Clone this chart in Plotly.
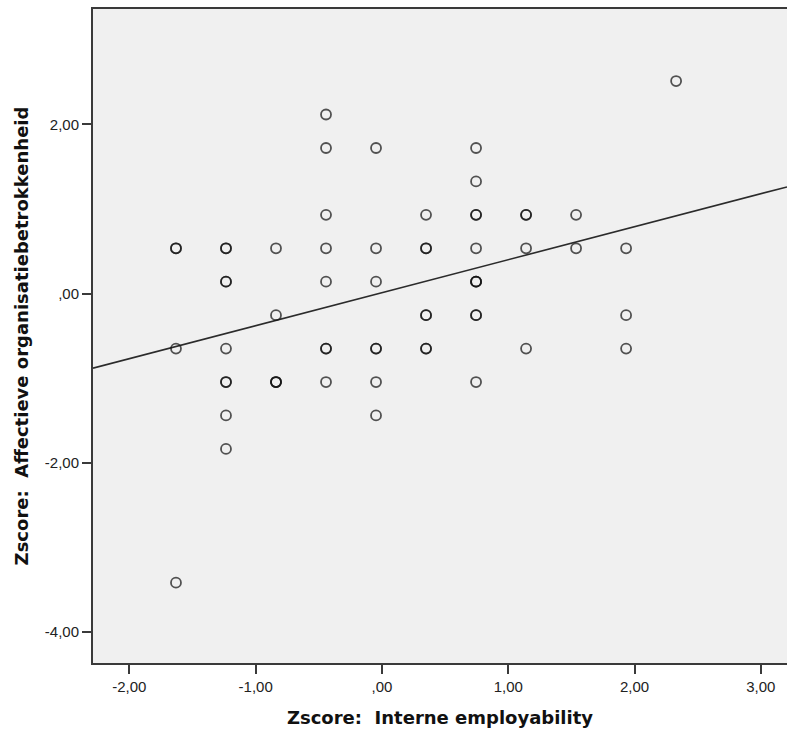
import plotly.graph_objects as go

# (duplicates listed as repeated points)
x_vals = [-1.631, -1.631, -1.631, -1.631,
          -1.235, -1.235, -1.235, -1.235, -1.235, -1.235, -1.235, -1.235, -1.235,
          -0.839, -0.839, -0.839, -0.839, -0.839,
          -0.443, -0.443, -0.443, -0.443, -0.443, -0.443, -0.443, -0.443,
          -0.047, -0.047, -0.047, -0.047, -0.047, -0.047, -0.047,
          0.349, 0.349, 0.349, 0.349, 0.349, 0.349, 0.349,
          0.745, 0.745, 0.745, 0.745, 0.745, 0.745, 0.745, 0.745, 0.745, 0.745, 0.745,
          1.141, 1.141, 1.141, 1.141,
          1.537, 1.537,
          1.933, 1.933, 1.933,
          2.329]
y_vals = [0.535, 0.535, -0.651, -3.42,
          0.535, 0.535, 0.140, 0.140, -0.651, -1.047, -1.047, -1.442, -1.838,
          0.535, -0.256, -1.047, -1.047, -1.047,
          2.117, 1.721, 0.931, 0.535, 0.140, -0.651, -0.651, -1.047,
          1.721, 0.535, 0.140, -0.651, -0.651, -1.047, -1.442,
          0.931, 0.535, 0.535, -0.256, -0.256, -0.651, -0.651,
          1.721, 1.326, 0.931, 0.931, 0.535, 0.140, 0.140, 0.140, -0.256, -0.256, -1.047,
          0.931, 0.931, 0.535, -0.651,
          0.931, 0.535,
          0.535, -0.256, -0.651,
          2.513]

# Fit line (total-sample linear fit)
fit_slope = 0.39
fit_intercept = 0.01

x_range = [-2.288, 3.207]
y_range = [-4.37, 3.365]

x_ticks = [-2, -1, 0, 1, 2, 3]
x_tick_labels = ["-2,00", "-1,00", ",00", "1,00", "2,00", "3,00"]
y_ticks = [-4, -2, 0, 2]
y_tick_labels = ["-4,00", "-2,00", ",00", "2,00"]

fit_x = x_range
fit_y = [fit_intercept + fit_slope * v for v in fit_x]

fig = go.Figure()
fig.add_trace(go.Scatter(
    x=fit_x, y=fit_y, mode="lines",
    line=dict(color="#2b2b2b", width=1.6),
    hoverinfo="skip", showlegend=False,
))
fig.add_trace(go.Scatter(
    x=x_vals, y=y_vals, mode="markers",
    marker=dict(symbol="circle-open", size=10,
                color="rgba(20,20,20,0.72)",
                line=dict(width=1.8, color="rgba(20,20,20,0.72)")),
    showlegend=False,
))

axis_font = dict(family="Liberation Sans, Arial, sans-serif", size=15, color="#222")
title_font = dict(family="DejaVu Sans, Verdana, sans-serif", size=18, color="#111")

fig.update_layout(
    width=787, height=731,
    margin=dict(l=93, r=0, t=9, b=68),
    paper_bgcolor="white",
    plot_bgcolor="#F0F0F0",
    xaxis=dict(
        range=x_range, tickmode="array", tickvals=x_ticks, ticktext=x_tick_labels,
        showgrid=False, zeroline=False,
        showline=True, linecolor="#3a3a3a", linewidth=2, mirror=True,
        ticks="outside", ticklen=9, tickwidth=2, tickcolor="#3a3a3a",
        tickfont=axis_font,
        title=dict(text="<b>Zscore:  Interne employability</b>", font=title_font, standoff=17),
    ),
    yaxis=dict(
        range=y_range, tickmode="array", tickvals=y_ticks, ticktext=y_tick_labels,
        showgrid=False, zeroline=False,
        showline=True, linecolor="#3a3a3a", linewidth=2, mirror=False,
        ticks="outside", ticklen=9, tickwidth=2, tickcolor="#3a3a3a",
        tickfont=axis_font,
        title=dict(text="<b>Zscore:  Affectieve organisatiebetrokkenheid</b>", font=title_font, standoff=11),
    ),
)

fig.write_html(
    "out.html",
    config={"displayModeBar": False},
    post_script="document.body.style.margin='0';document.documentElement.style.overflow='hidden';document.body.style.overflow='hidden';",
)
